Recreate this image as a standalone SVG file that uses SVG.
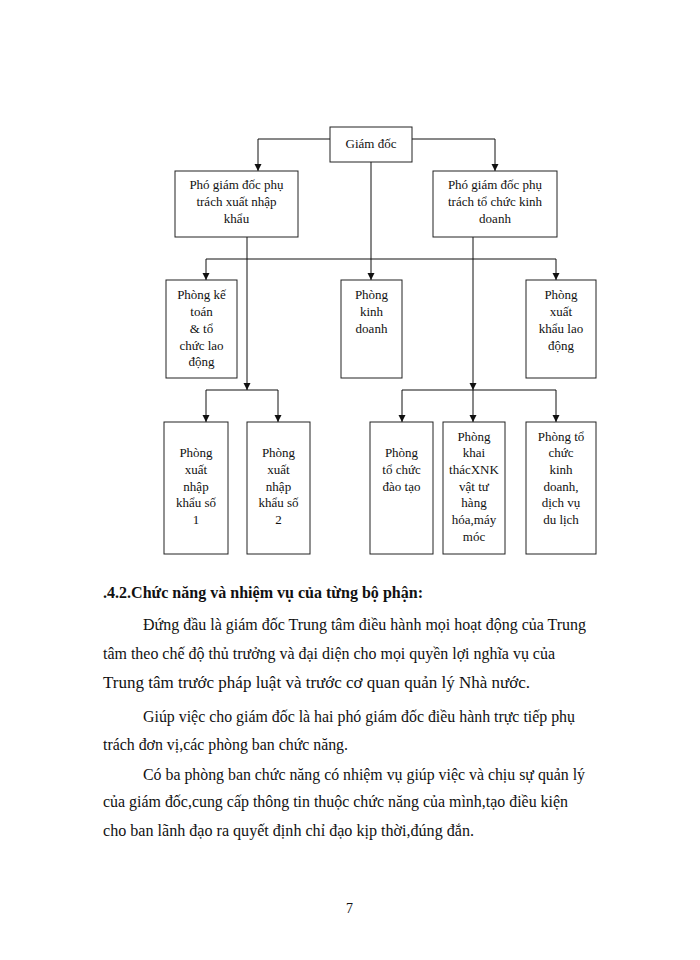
<svg xmlns="http://www.w3.org/2000/svg" width="700" height="960" viewBox="0 0 700 960">
<style>
.box{fill:#fff;stroke:#222;stroke-width:1}
.bt{font-family:"Liberation Serif","Times New Roman",serif;font-size:13px;fill:#111;text-anchor:middle}
.ln{fill:none;stroke:#111;stroke-width:1}
.body{font-family:"Liberation Serif","Times New Roman",serif;font-size:16px;fill:#111}
.hd{font-weight:bold}
</style>
<defs>
<marker id="ar" markerUnits="userSpaceOnUse" markerWidth="8" markerHeight="8" refX="7" refY="3.5" orient="auto">
<path d="M0,0 L7,3.5 L0,7 z" fill="#111"/>
</marker>
</defs>
<rect width="700" height="960" fill="#fff"/>
<g id="connectors">
<polyline class="ln" points="330,139 258,139 258,171" marker-end="url(#ar)"/>
<polyline class="ln" points="412,139 495,139 495,171" marker-end="url(#ar)"/>
<line class="ln" x1="371" y1="162" x2="371" y2="280" marker-end="url(#ar)"/>
<line class="ln" x1="206" y1="259" x2="556" y2="259"/>
<line class="ln" x1="206" y1="259" x2="206" y2="280" marker-end="url(#ar)"/>
<line class="ln" x1="556" y1="259" x2="556" y2="280" marker-end="url(#ar)"/>
<line class="ln" x1="247" y1="237" x2="247" y2="390" marker-end="url(#ar)"/>
<line class="ln" x1="473" y1="237" x2="473" y2="390" marker-end="url(#ar)"/>
<line class="ln" x1="206" y1="390" x2="278" y2="390"/>
<line class="ln" x1="206" y1="390" x2="206" y2="422" marker-end="url(#ar)"/>
<line class="ln" x1="278" y1="390" x2="278" y2="422" marker-end="url(#ar)"/>
<line class="ln" x1="402" y1="390" x2="556" y2="390"/>
<line class="ln" x1="402" y1="390" x2="402" y2="422" marker-end="url(#ar)"/>
<line class="ln" x1="473" y1="390" x2="473" y2="422" marker-end="url(#ar)"/>
<line class="ln" x1="556" y1="390" x2="556" y2="422" marker-end="url(#ar)"/>
</g>
<g id="giam-doc">
<rect class="box" x="330" y="127" width="82" height="35"/>
<text class="bt" x="371" y="148">Giám  đốc</text>
</g>
<g id="pho-gd-xnk">
<rect class="box" x="175" y="171" width="123" height="66"/>
<text class="bt" x="236.5" y="189">Phó giám  đốc phụ</text>
<text class="bt" x="236.5" y="206">trách xuất nhập</text>
<text class="bt" x="236.5" y="223">khẩu</text>
</g>
<g id="pho-gd-kd">
<rect class="box" x="433" y="171" width="124" height="66"/>
<text class="bt" x="495" y="189">Phó giám  đốc phụ</text>
<text class="bt" x="495" y="206">trách tổ chức kinh</text>
<text class="bt" x="495" y="223">doanh</text>
</g>
<g id="phong-ke-toan">
<rect class="box" x="166" y="280" width="71" height="98"/>
<text class="bt" x="201.5" y="299">Phòng  kế</text>
<text class="bt" x="201.5" y="316">toán</text>
<text class="bt" x="201.5" y="333">&amp; tổ</text>
<text class="bt" x="201.5" y="350">chức lao</text>
<text class="bt" x="201.5" y="366">động</text>
</g>
<g id="phong-kinh-doanh">
<rect class="box" x="341" y="280" width="61" height="98"/>
<text class="bt" x="371.5" y="299">Phòng</text>
<text class="bt" x="371.5" y="316">kinh</text>
<text class="bt" x="371.5" y="333">doanh</text>
</g>
<g id="phong-xk-lao-dong">
<rect class="box" x="526" y="280" width="70" height="98"/>
<text class="bt" x="561" y="299">Phòng</text>
<text class="bt" x="561" y="316">xuất</text>
<text class="bt" x="561" y="333">khẩu lao</text>
<text class="bt" x="561" y="350">động</text>
</g>
<g id="phong-xnk-1">
<rect class="box" x="164" y="422" width="64" height="132"/>
<text class="bt" x="196" y="457">Phòng</text>
<text class="bt" x="196" y="474">xuất</text>
<text class="bt" x="196" y="491">nhập</text>
<text class="bt" x="196" y="507">khẩu  số</text>
<text class="bt" x="196" y="524">1</text>
</g>
<g id="phong-xnk-2">
<rect class="box" x="247" y="422" width="63" height="132"/>
<text class="bt" x="278.5" y="457">Phòng</text>
<text class="bt" x="278.5" y="474">xuất</text>
<text class="bt" x="278.5" y="491">nhập</text>
<text class="bt" x="278.5" y="507">khẩu  số</text>
<text class="bt" x="278.5" y="524">2</text>
</g>
<g id="phong-dao-tao">
<rect class="box" x="370" y="422" width="63" height="132"/>
<text class="bt" x="401.5" y="457">Phòng</text>
<text class="bt" x="401.5" y="474">tổ chức</text>
<text class="bt" x="401.5" y="491">đào tạo</text>
</g>
<g id="phong-khai-thac">
<rect class="box" x="443" y="422" width="62" height="132"/>
<text class="bt" x="474" y="441">Phòng</text>
<text class="bt" x="474" y="457">khai</text>
<text class="bt" x="474" y="474">thácXNK</text>
<text class="bt" x="474" y="491">vật tư</text>
<text class="bt" x="474" y="507">hàng</text>
<text class="bt" x="474" y="524">hóa,máy</text>
<text class="bt" x="474" y="541">móc</text>
</g>
<g id="phong-to-chuc-kd">
<rect class="box" x="526" y="422" width="70" height="132"/>
<text class="bt" x="561" y="441">Phòng  tổ</text>
<text class="bt" x="561" y="457">chức</text>
<text class="bt" x="561" y="474">kinh</text>
<text class="bt" x="561" y="491">doanh,</text>
<text class="bt" x="561" y="507">dịch  vụ</text>
<text class="bt" x="561" y="524">du lịch</text>
</g>
<g id="text-body" class="body">
<text class="hd" x="103" y="598" textLength="320" lengthAdjust="spacingAndGlyphs">.4.2.Chức năng và nhiệm vụ của từng bộ phận:</text>
<text x="143" y="630" textLength="443" lengthAdjust="spacingAndGlyphs">Đứng đầu là giám  đốc Trung tâm điều hành mọi hoạt động của Trung</text>
<text x="103" y="659" textLength="452" lengthAdjust="spacingAndGlyphs">tâm theo chế độ thủ trưởng và đại diện cho mọi quyền lợi nghĩa vụ của</text>
<text x="103" y="688" textLength="427" lengthAdjust="spacingAndGlyphs">Trung tâm trước pháp luật  và trước cơ quan quản lý Nhà nước.</text>
<text x="143" y="722" textLength="432" lengthAdjust="spacingAndGlyphs">Giúp việc  cho giám  đốc là hai  phó giám  đốc điều hành trực tiếp  phụ</text>
<text x="103" y="750" textLength="245" lengthAdjust="spacingAndGlyphs">trách đơn vị,các phòng ban chức năng.</text>
<text x="143" y="780" textLength="442" lengthAdjust="spacingAndGlyphs">Có ba phòng ban chức năng  có nhiệm  vụ giúp  việc và chịu sự quản lý</text>
<text x="103" y="807" textLength="465" lengthAdjust="spacingAndGlyphs">của giám  đốc,cung cấp thông tin thuộc chức năng  của mình,tạo điều kiện</text>
<text x="103" y="836" textLength="371" lengthAdjust="spacingAndGlyphs">cho ban lãnh  đạo ra quyết  định  chỉ đạo kịp thời,đúng  đắn.</text>
<text x="346" y="913" font-size="14">7</text>
</g>
</svg>
